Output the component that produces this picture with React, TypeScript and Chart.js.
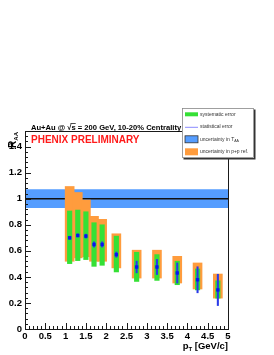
import React, { useEffect, useRef } from "react";
import { Chart, registerables } from "chart.js";

Chart.register(...registerables);

// ---- data ----
const ptBins = [1.1, 1.3, 1.5, 1.7, 1.9, 2.25, 2.75, 3.25, 3.75, 4.25, 4.75];
const raaValues = [0.7, 0.718, 0.713, 0.649, 0.649, 0.571, 0.476, 0.476, 0.43, 0.378, 0.3];
const statErrors = [0.012, 0.012, 0.015, 0.02, 0.02, 0.02, 0.045, 0.058, 0.077, 0.1, 0.12];
const sysLow = [0.502, 0.525, 0.533, 0.481, 0.489, 0.438, 0.365, 0.373, 0.34, 0.3, 0.237];
const sysHigh = [0.906, 0.913, 0.9, 0.816, 0.8, 0.713, 0.589, 0.571, 0.52, 0.461, 0.37];
const ppLow = [0.52, 0.546, 0.555, 0.52, 0.52, 0.469, 0.391, 0.391, 0.353, 0.307, 0.237];
const ppHigh = [1.094, 1.048, 0.99, 0.865, 0.842, 0.731, 0.605, 0.605, 0.558, 0.507, 0.422];
const taaCenter = 1.0;
const taaError = 0.072;
const xRange = [0, 5];
const yRange = [0, 1.52];
const xTickValues = [0, 0.5, 1, 1.5, 2, 2.5, 3, 3.5, 4, 4.5, 5];
const xTickLabels = ["0", "0.5", "1", "1.5", "2", "2.5", "3", "3.5", "4", "4.5", "5"];
const yTickValues = [0, 0.2, 0.4, 0.6, 0.8, 1, 1.2, 1.4];
const yTickLabels = ["0", "0.2", "0.4", "0.6", "0.8", "1", "1.2", "1.4"];
const legendLabels = ["systematic error", "statistical error", "uncertainty in T", "uncertainty in p+p ref."];
const titleText = "Au+Au @ \u221As = 200 GeV, 10-20% Centrality";
const prelimText = "PHENIX PRELIMINARY";

// ---- styles ----
const GREEN = "#35e035";
const ORANGE = "#ff9c3d";
const BAND = "#559dff";
const POINT = "#0a14f0";
const STAT = "#2a3ae8";
const FONT = "'Liberation Sans', Arial, sans-serif";

const decoPlugin = {
  id: "deco",
  afterDatasetsDraw(chart: any) {
    const { ctx, chartArea, scales } = chart;
    const { left, right, top, bottom } = chartArea;
    const x = scales.x;
    const y = scales.y;
    ctx.save();
    ctx.strokeStyle = "#1a1a1a";
    ctx.lineWidth = 1;
    ctx.strokeRect(Math.round(left) + 0.5, Math.round(top) + 0.5, Math.round(right - left), Math.round(bottom - top));
    ctx.beginPath();
    for (let i = 0; i <= 50; i++) {
      const px = Math.round(x.getPixelForValue(i / 10)) + 0.5;
      const len = i % 5 === 0 ? 6 : 3;
      ctx.moveTo(px, bottom);
      ctx.lineTo(px, bottom - len);
    }
    for (let i = 0; i <= 38; i++) {
      const py = Math.round(y.getPixelForValue(i * 0.04)) + 0.5;
      if (py < top) break;
      const len = i % 5 === 0 ? 6 : 3;
      ctx.moveTo(left, py);
      ctx.lineTo(left + len, py);
    }
    ctx.stroke();
    ctx.restore();
  },
  afterDraw(chart: any) {
    const { ctx, chartArea } = chart;
    const { left, right, top, bottom } = chartArea;
    ctx.save();
    ctx.textBaseline = "alphabetic";

    // title
    ctx.fillStyle = "#000";
    ctx.font = `bold 7.6px ${FONT}`;
    ctx.textAlign = "left";
    ctx.fillText(titleText, 31, 129.5);
    // overline on s
    const pre = "Au+Au @ \u221A";
    const w0 = ctx.measureText(pre).width;
    const ws = ctx.measureText("s").width;
    ctx.fillRect(31 + w0 - 1, 123.2, ws + 1, 0.7);

    // preliminary
    ctx.fillStyle = "#ff1a1a";
    ctx.font = `bold 10px ${FONT}`;
    ctx.fillText(prelimText, 31, 142.5);

    // x axis title
    ctx.fillStyle = "#000";
    ctx.font = `bold 9.5px ${FONT}`;
    const rest = " [GeV/c]";
    const wRest = ctx.measureText(rest).width;
    ctx.font = `bold 6px ${FONT}`;
    const wT = ctx.measureText("T").width;
    ctx.font = `bold 9.5px ${FONT}`;
    const wp = ctx.measureText("p").width;
    let xs = right - wRest - wT - wp;
    ctx.fillText("p", xs, 349);
    ctx.font = `bold 6px ${FONT}`;
    ctx.fillText("T", xs + wp, 351);
    ctx.font = `bold 9.5px ${FONT}`;
    ctx.fillText(rest, xs + wp + wT, 349);

    // y axis title (rotated)
    ctx.save();
    ctx.translate(16, top);
    ctx.rotate(-Math.PI / 2);
    ctx.font = `bold 6px ${FONT}`;
    const wAA = ctx.measureText("AA").width;
    ctx.font = `bold 10px ${FONT}`;
    const wR = ctx.measureText("R").width;
    const startR = -(wR + wAA) - 1;
    ctx.fillText("R", startR, 0);
    ctx.font = `bold 6px ${FONT}`;
    ctx.fillText("AA", startR + wR, 2);
    ctx.restore();

    // legend
    const lx = 182, ly = 108, lw = 72, lh = 50;
    ctx.fillStyle = "#333";
    ctx.fillRect(lx + 1.5, ly + 1.5, lw, lh);
    ctx.fillStyle = "#fff";
    ctx.fillRect(lx, ly, lw, lh);
    ctx.strokeStyle = "#888";
    ctx.lineWidth = 0.8;
    ctx.strokeRect(lx + 0.5, ly + 0.5, lw - 1, lh - 1);

    const rows = [114.3, 126.8, 139.3, 151.8];
    const sx = 185, sw = 13;
    // systematic
    ctx.fillStyle = GREEN;
    ctx.fillRect(sx, rows[0] - 2, sw, 4);
    // statistical
    ctx.strokeStyle = "#8a8aff";
    ctx.lineWidth = 1;
    ctx.beginPath();
    ctx.moveTo(sx, rows[1] + 0.5);
    ctx.lineTo(sx + sw, rows[1] + 0.5);
    ctx.stroke();
    // TAA
    ctx.fillStyle = BAND;
    ctx.fillRect(sx, rows[2] - 3.5, sw, 7);
    ctx.strokeStyle = "#333";
    ctx.lineWidth = 0.8;
    ctx.strokeRect(sx, rows[2] - 3.5, sw, 7);
    // pp
    ctx.fillStyle = ORANGE;
    ctx.fillRect(sx, rows[3] - 3.5, sw, 7);

    ctx.fillStyle = "#333";
    ctx.font = `5px ${FONT}`;
    ctx.textBaseline = "middle";
    const tx = 200;
    ctx.fillText(legendLabels[0], tx, rows[0]);
    ctx.fillText(legendLabels[1], tx, rows[1]);
    ctx.fillText(legendLabels[2], tx, rows[2]);
    const wTaa = ctx.measureText(legendLabels[2]).width;
    ctx.font = `3.5px ${FONT}`;
    ctx.fillText("AA", tx + wTaa, rows[2] + 1.5);
    ctx.font = `5px ${FONT}`;
    ctx.fillText(legendLabels[3], tx, rows[3]);

    ctx.restore();
  },
};

export default function App() {
  const canvasRef = useRef<HTMLCanvasElement | null>(null);

  useEffect(() => {
    document.body.style.margin = "0";
    const canvas = canvasRef.current;
    if (!canvas) return;

    const ppData = ptBins.map((x, i) => ({ x, y: [ppLow[i], ppHigh[i]] }));
    const sysData = ptBins.map((x, i) => ({ x, y: [sysLow[i], sysHigh[i]] }));
    const statData = ptBins.map((x, i) => ({ x, y: [raaValues[i] - statErrors[i], raaValues[i] + statErrors[i]] }));
    const pointData = ptBins.map((x, i) => ({ x, y: raaValues[i] }));

    const chart = new Chart(canvas, {
      type: "bar",
      data: {
        datasets: [
          {
            type: "line",
            label: "band-upper",
            data: [
              { x: xRange[0], y: taaCenter + taaError },
              { x: xRange[1], y: taaCenter + taaError },
            ],
            borderWidth: 0,
            borderColor: "rgba(0,0,0,0)",
            backgroundColor: BAND,
            pointRadius: 0,
            fill: "+1",
            order: 10,
          } as any,
          {
            type: "line",
            label: "band-lower",
            data: [
              { x: xRange[0], y: taaCenter - taaError },
              { x: xRange[1], y: taaCenter - taaError },
            ],
            borderWidth: 0,
            borderColor: "rgba(0,0,0,0)",
            pointRadius: 0,
            fill: false,
            order: 9,
          } as any,
          {
            type: "line",
            label: "unity",
            data: [
              { x: xRange[0], y: taaCenter },
              { x: xRange[1], y: taaCenter },
            ],
            borderWidth: 1.4,
            borderColor: "#111",
            pointRadius: 0,
            fill: false,
            order: 8,
          } as any,
          {
            type: "bar",
            label: "pp",
            data: ppData,
            backgroundColor: ORANGE,
            borderWidth: 0,
            barThickness: 9,
            grouped: false,
            order: 7,
          } as any,
          {
            type: "bar",
            label: "sys",
            data: sysData,
            backgroundColor: GREEN,
            borderWidth: 0,
            barThickness: 4.5,
            grouped: false,
            order: 6,
          } as any,
          {
            type: "bar",
            label: "stat",
            data: statData,
            backgroundColor: STAT,
            borderWidth: 0,
            barThickness: 1.4,
            grouped: false,
            order: 5,
          } as any,
          {
            type: "scatter",
            label: "points",
            data: pointData,
            backgroundColor: POINT,
            borderColor: POINT,
            borderWidth: 0,
            pointStyle: "rect",
            pointRadius: 2.4,
            showLine: false,
            order: 4,
          } as any,
        ],
      },
      options: {
        animation: false,
        responsive: false,
        maintainAspectRatio: false,
        devicePixelRatio: 1,
        layout: { padding: { top: 131, right: 46, left: 0, bottom: 0 } },
        plugins: { legend: { display: false }, tooltip: { enabled: false } },
        scales: {
          x: {
            type: "linear",
            min: xRange[0],
            max: xRange[1],
            offset: false,
            grid: { display: false, drawTicks: false },
            border: { display: false },
            afterFit: (s: any) => {
              s.height = 26;
            },
            afterBuildTicks: (s: any) => {
              s.ticks = xTickValues.map((v) => ({ value: v }));
            },
            ticks: {
              autoSkip: false,
              maxRotation: 0,
              padding: 2,
              color: "#000",
              font: { family: FONT, size: 9.5, weight: "bold" },
              callback: (v: any) => {
                const i = xTickValues.indexOf(Number(v));
                return i >= 0 ? xTickLabels[i] : "";
              },
            },
          },
          y: {
            type: "linear",
            min: yRange[0],
            max: yRange[1],
            grid: { display: false, drawTicks: false },
            border: { display: false },
            afterFit: (s: any) => {
              s.width = 25;
            },
            afterBuildTicks: (s: any) => {
              s.ticks = yTickValues.map((v) => ({ value: v }));
            },
            ticks: {
              autoSkip: false,
              padding: 3,
              color: "#000",
              font: { family: FONT, size: 9.5, weight: "bold" },
              callback: (v: any) => {
                const i = yTickValues.findIndex((t) => Math.abs(t - Number(v)) < 1e-6);
                return i >= 0 ? yTickLabels[i] : "";
              },
            },
          },
        },
      } as any,
      plugins: [decoPlugin],
    });

    return () => {
      chart.destroy();
    };
  }, []);

  return (
    <div style={{ width: 274, height: 355, background: "#fff" }}>
      <canvas ref={canvasRef} width={274} height={355} style={{ display: "block", width: 274, height: 355 }} />
    </div>
  );
}
